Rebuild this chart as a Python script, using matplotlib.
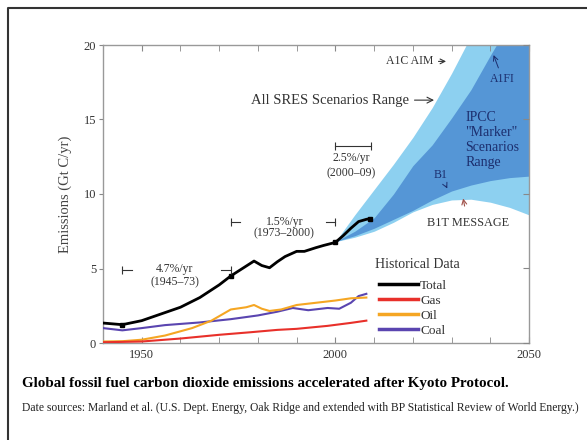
import matplotlib
matplotlib.use("Agg")
import matplotlib.pyplot as plt
from matplotlib.lines import Line2D

plt.rcParams['font.family'] = ['Liberation Serif', 'DejaVu Serif']

# historical emissions (Gt C/yr)
total_years = [1940, 1945, 1950, 1955, 1960, 1965, 1970, 1973, 1976, 1979, 1980,
               1981, 1983, 1985, 1987, 1990, 1992, 1995, 1997, 2000, 2002, 2004,
               2006, 2008, 2009]
total_vals = [1.34, 1.23, 1.5, 1.95, 2.4, 3.05, 3.9, 4.5, 5.0, 5.5, 5.35,
              5.2, 5.05, 5.45, 5.8, 6.15, 6.15, 6.4, 6.55, 6.75, 7.2, 7.7,
              8.15, 8.3, 8.35]
marker_years = [1945, 1973, 2000, 2009]
marker_vals = [1.23, 4.5, 6.75, 8.35]

coal_years = [1940, 1945, 1950, 1956, 1965, 1973, 1980, 1985, 1989, 1993, 1998,
              2001, 2004, 2006, 2008]
coal_vals = [1.0, 0.85, 1.0, 1.2, 1.38, 1.6, 1.85, 2.1, 2.35, 2.2, 2.35,
             2.3, 2.7, 3.15, 3.3]

oil_years = [1940, 1945, 1950, 1956, 1963, 1968, 1973, 1977, 1979, 1981, 1983,
             1986, 1990, 1995, 2000, 2004, 2008]
oil_vals = [0.1, 0.12, 0.22, 0.5, 1.0, 1.5, 2.25, 2.4, 2.55, 2.3, 2.15,
            2.25, 2.55, 2.7, 2.85, 3.0, 3.05]

gas_years = [1940, 1950, 1960, 1970, 1978, 1985, 1990, 1998, 2004, 2008]
gas_vals = [0.05, 0.1, 0.3, 0.55, 0.72, 0.88, 0.95, 1.15, 1.35, 1.5]

# SRES scenario envelopes
scen_years = [2000, 2005, 2010, 2015, 2020, 2025, 2030, 2035, 2040, 2045, 2050]
a1c_aim = [6.8, 8.6, 10.3, 12.0, 13.8, 15.8, 18.1, 20.6, 23.0, 25.5, 28.0]
a1fi = [6.8, 7.5, 8.4, 10.0, 11.9, 13.3, 15.1, 17.0, 19.3, 21.5, 23.8]
b1 = [6.8, 7.2, 7.7, 8.3, 8.9, 9.6, 10.2, 10.6, 10.9, 11.1, 11.2]
b1t_message = [6.8, 7.1, 7.5, 8.1, 8.8, 9.3, 9.6, 9.65, 9.45, 9.1, 8.6]

W, H = 587, 440
fig = plt.figure(figsize=(W / 100, H / 100), dpi=100)
ax = fig.add_axes([103 / W, 1 - 343 / H, (529 - 103) / W, (343 - 45) / H])

light = '#8dd0f0'
dark = '#5596d6'
ax.fill_between(scen_years, b1t_message, a1c_aim, color=light, lw=0, zorder=1)
ax.fill_between(scen_years, b1, a1fi, color=dark, lw=0, zorder=2)

ax.plot(coal_years, coal_vals, color='#5a45b0', lw=1.5, zorder=4, label='Coal')
ax.plot(oil_years, oil_vals, color='#f5a623', lw=1.5, zorder=4, label='Oil')
ax.plot(gas_years, gas_vals, color='#e8302a', lw=1.5, zorder=4, label='Gas')
ax.plot(total_years, total_vals, color='black', lw=2.0, zorder=5, label='Total')
ax.plot(marker_years, marker_vals, 's', color='black', ms=3.5, zorder=6)

ax.set_xlim(1940, 2050)
ax.set_ylim(0, 20)
ax.set_xticks([1950, 2000, 2050])
ax.set_xticks(range(1940, 2051, 10), minor=True)
ax.set_yticks([0, 5, 10, 15, 20])
ax.tick_params(axis='x', which='both', direction='in', top=True, length=4,
               color='#888', labelsize=9, labelcolor='#333', pad=4)
ax.tick_params(axis='y', direction='out', length=3, color='#888',
               labelsize=9, labelcolor='#333', pad=2)
for s in ax.spines.values():
    s.set_color('#999')
    s.set_linewidth(1)
ax2 = ax.twinx()
ax2.set_ylim(0, 20)
ax2.set_yticks([0, 5, 10, 15, 20])
ax2.tick_params(axis='y', direction='in', length=4, color='#888', labelright=False)
for s in ax2.spines.values():
    s.set_visible(False)

ax.set_ylabel('Emissions (Gt C/yr)', fontsize=10.5, color='#444', labelpad=8)

# growth-rate brackets
tc = '#333'
def bracket(x0, x1, y, g0=None, g1=None):
    if g0 is None:
        ax.plot([x0, x1], [y, y], color=tc, lw=0.8, zorder=7)
    else:
        ax.plot([x0, g0], [y, y], color=tc, lw=0.8, zorder=7)
        ax.plot([g1, x1], [y, y], color=tc, lw=0.8, zorder=7)
    ax.plot([x0, x1], [y, y], '|', color=tc, ms=6, mew=0.8, zorder=7)

bracket(1945, 1973, 4.9, 1947.5, 1970.5)
ax.text(1958.5, 4.95, '4.7%/yr', ha='center', va='center', fontsize=8.5, color=tc)
ax.text(1958.5, 4.1, '(1945–73)', ha='center', va='center', fontsize=8.5, color=tc)

bracket(1973, 2000, 8.1, 1975.5, 1997.5)
ax.text(1986.8, 8.15, '1.5%/yr', ha='center', va='center', fontsize=8.5, color=tc)
ax.text(1986.8, 7.35, '(1973–2000)', ha='center', va='center', fontsize=8.5, color=tc)

bracket(2000, 2009.3, 13.2)
ax.text(2004, 12.4, '2.5%/yr', ha='center', va='center', fontsize=8.5, color=tc)
ax.text(2004, 11.4, '(2000–09)', ha='center', va='center', fontsize=8.5, color=tc)

# scenario labels
ax.annotate('A1C AIM', xy=(2029.3, 18.9), xytext=(2025.2, 18.9), ha='right',
            va='center', fontsize=8.5, color=tc,
            arrowprops=dict(arrowstyle='->', color=tc, lw=0.8))
ax.annotate('All SRES Scenarios Range', xy=(2026.2, 16.3), xytext=(2019.0, 16.3),
            ha='right', va='center', fontsize=10.5, color=tc,
            arrowprops=dict(arrowstyle='->', color=tc, lw=0.8))
navy = '#1c2e6e'
ax.annotate('A1FI', xy=(2040.6, 19.5), xytext=(2043.2, 17.7), ha='center',
            va='center', fontsize=8.5, color=navy,
            arrowprops=dict(arrowstyle='->', color=navy, lw=0.7))
ax.text(2033.6, 13.6, 'IPCC\n"Marker"\nScenarios\nRange', ha='left', va='center',
        fontsize=10, color=navy, linespacing=1.2)
ax.annotate('B1', xy=(2029.2, 10.2), xytext=(2027.2, 11.3), ha='center',
            va='center', fontsize=8.5, color=navy,
            arrowprops=dict(arrowstyle='->', color=navy, lw=0.7))
ax.annotate('B1T MESSAGE', xy=(2033, 9.7), xytext=(2034.2, 8.05), ha='center',
            va='center', fontsize=8.8, color=tc,
            arrowprops=dict(arrowstyle='->', color='#a0524a', lw=0.8,
                            shrinkA=6, shrinkB=0))

# legend
ax.text(2021.3, 5.25, 'Historical Data', ha='center', va='center',
        fontsize=10, color=tc)
handles, labels = ax.get_legend_handles_labels()
order = [3, 2, 1, 0]
leg = ax.legend([Line2D([], [], color=handles[i].get_color(), lw=2.5) for i in order],
                [labels[i] for i in order], loc='upper left',
                bbox_to_anchor=(2011.2, 4.25), bbox_transform=ax.transData,
                frameon=False, fontsize=9.5, handlelength=3.0, handletextpad=0.15,
                labelspacing=0.2, borderpad=0, borderaxespad=0)
for t in leg.get_texts():
    t.set_color(tc)

# caption
fig.text(22 / W, 1 - 383 / H,
         'Global fossil fuel carbon dioxide emissions accelerated after Kyoto Protocol.',
         fontsize=10.8, fontweight='bold', va='center', ha='left')
fig.text(22 / W, 1 - 408 / H,
         'Date sources: Marland et al. (U.S. Dept. Energy, Oak Ridge and extended '
         'with BP Statistical Review of World Energy.)',
         fontsize=8.4, va='center', ha='left', color='#222')

# frame around page
fig.add_artist(Line2D([8 / W, 8 / W, 1], [0, 1 - 8 / H, 1 - 8 / H],
                      color='#333', lw=1.5, transform=fig.transFigure))

fig.savefig('out.png', dpi=100)
